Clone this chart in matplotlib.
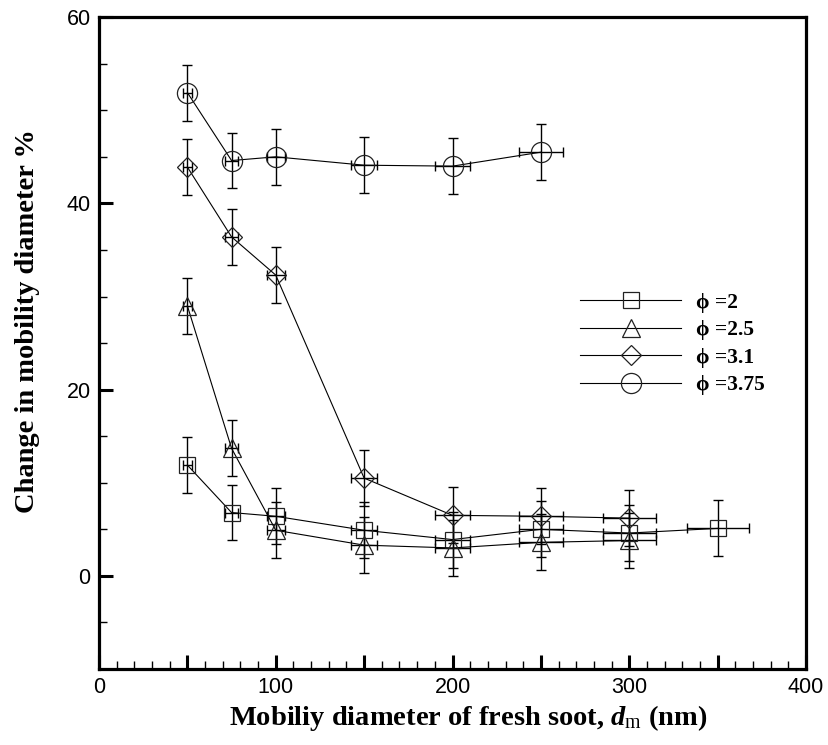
import matplotlib
matplotlib.use("Agg")
import matplotlib.pyplot as plt
from matplotlib.lines import Line2D
from matplotlib.ticker import MultipleLocator, FuncFormatter

plt.rcParams["mathtext.fontset"] = "custom"
plt.rcParams["mathtext.rm"] = "Liberation Serif:bold"
plt.rcParams["mathtext.it"] = "Liberation Serif:italic:bold"
plt.rcParams["mathtext.bf"] = "Liberation Serif:bold"
plt.rcParams["mathtext.sf"] = "Liberation Serif"  # plain subscript

# mobility diameter (nm) and x error bars
d_phi2 = [50, 75, 100, 150, 200, 250, 300, 350]
xerr_phi2 = [2.5, 3.75, 5, 7.5, 10, 12.5, 15, 17.5]
chg_phi2 = [11.9, 6.8, 6.4, 4.9, 3.9, 5.0, 4.6, 5.1]
yerr_phi2 = [3, 3, 3, 3, 3, 3, 3, 3]

d_phi25 = [50, 75, 100, 150, 200, 250, 300]
xerr_phi25 = [2.5, 3.75, 5, 7.5, 10, 12.5, 15]
chg_phi25 = [29.0, 13.7, 4.9, 3.3, 3.0, 3.6, 3.8]
yerr_phi25 = [3, 3, 3, 3, 3, 3, 3]

d_phi31 = [50, 75, 100, 150, 200, 250, 300]
xerr_phi31 = [2.5, 3.75, 5, 7.5, 10, 12.5, 15]
chg_phi31 = [43.9, 36.4, 32.3, 10.5, 6.5, 6.4, 6.2]
yerr_phi31 = [3, 3, 3, 3, 3, 3, 3]

d_phi375 = [50, 75, 100, 150, 200, 250]
xerr_phi375 = [2.5, 3.75, 5, 7.5, 10, 12.5]
chg_phi375 = [51.9, 44.6, 45.0, 44.1, 44.0, 45.5]
yerr_phi375 = [3, 3, 3, 3, 3, 3]

series = [
    ("\u03d5 =2", d_phi2, chg_phi2, xerr_phi2, yerr_phi2, "s", 11),
    ("\u03d5 =2.5", d_phi25, chg_phi25, xerr_phi25, yerr_phi25, "^", 13),
    ("\u03d5 =3.1", d_phi31, chg_phi31, xerr_phi31, yerr_phi31, "D", 10),
    ("\u03d5 =3.75", d_phi375, chg_phi375, xerr_phi375, yerr_phi375, "o", 14.5),
]

fig = plt.figure(figsize=(8.29, 7.45), dpi=100)
ax = fig.add_axes([0.1194, 0.102, 0.8529, 0.875])

handles = []
for label, x, y, xe, ye, mk, ms in series:
    ax.errorbar(x, y, xerr=xe, yerr=ye, fmt="none", ecolor="black",
                elinewidth=1.0, capsize=3.5, capthick=1.0, zorder=2)
    ax.plot(x, y, color="black", lw=0.8, marker=mk, ms=ms,
            mfc="none", mec="#222222", mew=0.9, zorder=3)
    handles.append(Line2D([], [], color="black", lw=0.8, marker=mk, ms=ms,
                          mfc="none", mec="#222222", mew=0.9, label=label))

ax.set_xlim(0, 400)
ax.set_ylim(-10, 60)

ax.xaxis.set_major_locator(MultipleLocator(50))
ax.xaxis.set_minor_locator(MultipleLocator(10))
ax.xaxis.set_major_formatter(FuncFormatter(lambda v, p: f"{v:.0f}" if v % 100 == 0 else ""))
ax.yaxis.set_major_locator(MultipleLocator(20))
ax.yaxis.set_minor_locator(MultipleLocator(5))

ax.tick_params(which="both", direction="in", top=False, right=False)
ax.tick_params(which="major", length=10, width=2.2, labelsize=15.5, pad=6)
ax.tick_params(which="minor", length=5.5, width=1.0)
for lab in ax.get_xticklabels() + ax.get_yticklabels():
    lab.set_fontfamily("Liberation Sans")

for sp in ax.spines.values():
    sp.set_linewidth(2.3)

label_font = dict(family="Liberation Serif", weight="bold", size=20.5)
ax.set_xlabel(r"Mobiliy diameter of fresh soot, $\mathit{d}_{\mathsf{m}}$ (nm)", **label_font)
ax.set_ylabel("Change in mobility diameter %", **label_font)
ax.xaxis.set_label_coords(0.5226, -0.052)
ax.yaxis.set_label_coords(-0.083, 0.534)

leg = fig.legend(handles=handles, loc="center left",
                 bbox_to_anchor=(580 / 829, 1 - 344 / 745),
                 frameon=False, borderpad=0, borderaxespad=0,
                 handlelength=4.7, handletextpad=0.7, labelspacing=0.35,
                 prop=dict(family=["Liberation Serif", "DejaVu Serif"],
                           weight="bold", size=15.5))

fig.savefig("out.png", dpi=100)
